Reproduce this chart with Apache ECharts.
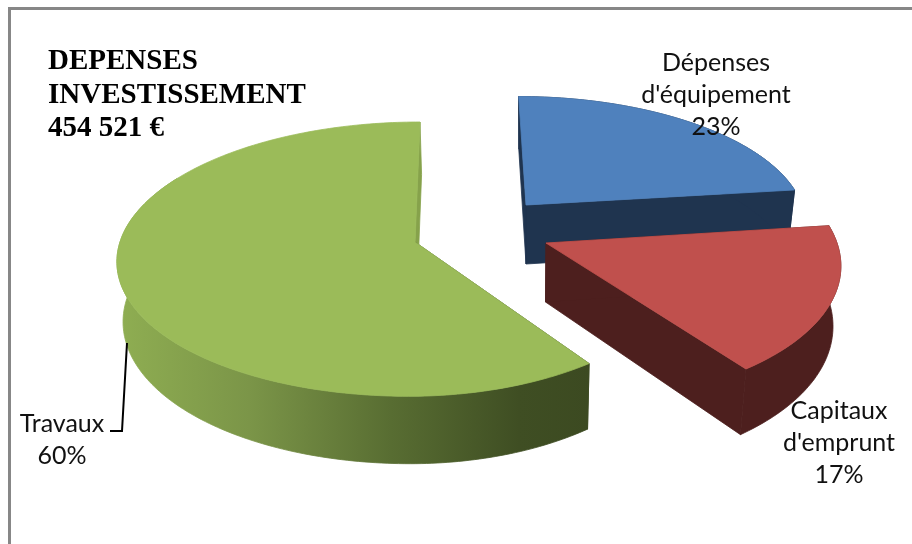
<!DOCTYPE html>
<html>
<head>
<meta charset="utf-8">
<style>html,body{margin:0;padding:0;background:#fff}#c{width:912px;height:544px}</style>
<script src="https://cdn.jsdelivr.net/npm/echarts@6/dist/echarts.min.js"></script>
</head>
<body>
<div id="c"></div>
<script>
var titleLines = ['DEPENSES', 'INVESTISSEMENT', '454 521 €'];
var categories = ["Dépenses\nd'équipement", "Capitaux\nd'emprunt", "Travaux"];
var shares = [23, 17, 60];

var topColors = ['#4f81bd', '#c0504d', '#9bbb59'];
var wallColors = ['#1f344f', '#4d1f1e', null];
var endWallColors = ['#1f344f', '#4d1f1e', '#86a24b'];
var greenWall = [[0, '#8fae52'], [0.28, '#7b9548'], [0.58, '#586d32'], [0.85, '#3f4e23'], [1, '#3c4a21']];
var slices = [
  {cx: 526, cy: 205, rR: 276, rL: 276, ry: 122},
  {cx: 546, cy: 243, rR: 291, rL: 291, ry: 140},
  {cx: 415, cy: 242, rR: 274, rL: 295, ry: 135}
];
var labelSpots = [[716, 95], [839, 443], [62, 440]];
var leader = [[110, 431], [122, 431], [127, 343]];
var startDeg = 0, persp = 0.125, vanishX = 460, depth = 59, depthX = 526;
var depthScaleRight = 0.975, depthScaleLeft = 0.985, wallEndDeg = 300;

function project(sl, deg, apexOnly) {
  var a = deg * Math.PI / 180;
  var u = apexOnly ? 0 : Math.sin(a), v = apexOnly ? 0 : Math.cos(a);
  var s = 1 / (1 + persp * v);
  var X = sl.cx + (u > 0 ? sl.rR : sl.rL) * u;
  return {x: vanishX + (X - vanishX) * s, y: sl.cy - sl.ry * v * s, s: s};
}
function low(p) {
  var f = p.x > depthX ? depthScaleRight : depthScaleLeft;
  return [depthX + (p.x - depthX) * f, p.y + depth * p.s];
}

var total = shares.reduce(function (a, b) { return a + b; }, 0);

function renderItem(params, api) {
  var i = params.dataIndex, sl = slices[i], before = 0;
  for (var k = 0; k < i; k++) before += shares[k];
  var a0 = startDeg + before / total * 360;
  var a1 = a0 + api.value(0) / total * 360;
  var arcTop = [], wallTop = [], wallLow = [], steps = Math.ceil(a1 - a0);
  for (var j = 0; j <= steps; j++) {
    var deg = a0 + (a1 - a0) * j / steps;
    var p = project(sl, deg);
    arcTop.push([p.x, p.y]);
    if (deg <= wallEndDeg) {
      wallTop.push([p.x, p.y]);
      wallLow.push(low(p));
    }
  }
  var apex = project(sl, 0, true), apexT = [apex.x, apex.y], apexL = low(apex);
  var endPt = project(sl, a1), startPt = project(sl, a0);
  var wallFill = wallColors[i] || {
    type: 'linear', x: 117, y: 0, x2: 590, y2: 0, global: true,
    colorStops: greenWall.map(function (c) { return {offset: c[0], color: c[1]}; })
  };
  var children = [];
  function poly(pts, fill) {
    children.push({type: 'polygon', shape: {points: pts},
      style: {fill: fill, stroke: fill, lineWidth: 0.8}});
  }
  poly([apexT, [endPt.x, endPt.y], low(endPt), apexL], endWallColors[i]);
  poly([apexT, [startPt.x, startPt.y], low(startPt), apexL], wallFill);
  poly(wallTop.concat(wallLow.slice().reverse()), wallFill);
  poly([apexT].concat(arcTop), topColors[i]);
  if (i === 2) {
    children.push({type: 'polyline', shape: {points: leader}, style: {stroke: '#000', lineWidth: 2, fill: null}});
  }
  children.push({
    type: 'text',
    style: {
      text: categories[i] + '\n' + api.value(0) + '%',
      x: labelSpots[i][0], y: labelSpots[i][1],
      align: 'center', verticalAlign: 'middle',
      fontFamily: 'Lato', fontSize: 25, lineHeight: 32, fill: '#111'
    }
  });
  return {type: 'group', children: children};
}

var chart = echarts.init(document.getElementById('c'), null, {renderer: 'canvas'});
chart.setOption({
  backgroundColor: '#fff',
  animation: false,
  title: {
    text: titleLines.join('\n'),
    left: 48, top: 45, padding: 0,
    textStyle: {fontFamily: 'Liberation Serif', fontWeight: 'bold', fontSize: 29, lineHeight: 33.5, color: '#000'}
  },
  graphic: [{
    type: 'polyline', silent: true,
    shape: {points: [[9.5, 544], [9.5, 8.5], [912, 8.5]]},
    style: {stroke: '#878787', lineWidth: 3, fill: null}
  }],
  series: [{
    type: 'custom',
    coordinateSystem: 'none',
    silent: true,
    renderItem: renderItem,
    data: shares.map(function (v) { return [v]; })
  }]
});
</script>
</body>
</html>
